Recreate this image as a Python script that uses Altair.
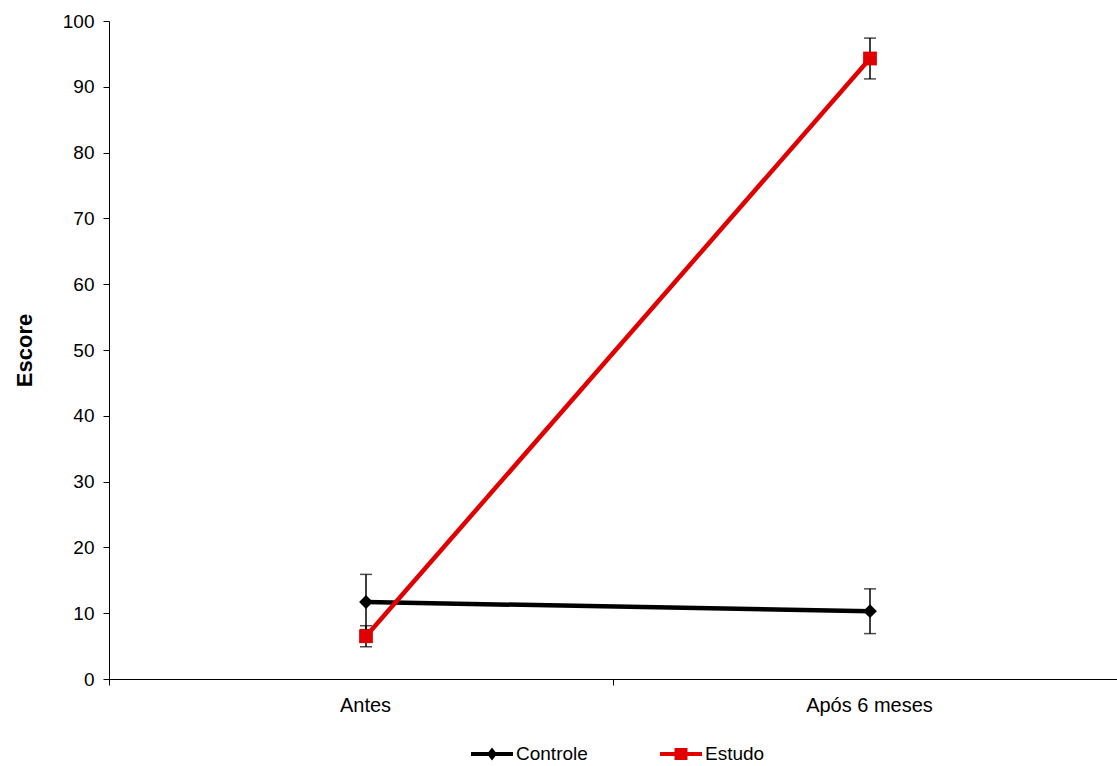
import altair as alt
import pandas as pd

# Mean score per group and period, with the half-width of each error bar
periods = ["Antes", "Após 6 meses"]
series_names = ["Controle", "Estudo"]
controle_mean = [11.7, 10.3]
controle_err = [4.2, 3.4]
estudo_mean = [6.5, 94.3]
estudo_err = [1.6, 3.1]
series_colors = ["#000000", "#e00000"]
series_shapes = ["diamond", "square"]
y_ticks = list(range(0, 101, 10))

rows = []
for name, means, errs in [
    ("Controle", controle_mean, controle_err),
    ("Estudo", estudo_mean, estudo_err),
]:
    for period, m, e in zip(periods, means, errs):
        rows.append({"serie": name, "periodo": period, "escore": m,
                     "lo": m - e, "hi": m + e})
df = pd.DataFrame(rows)

FONT = "Liberation Sans"
X_SHIFT = 5

x_enc = alt.X(
    "periodo:N",
    sort=periods,
    bandPosition=0.5,
    scale=alt.Scale(type="band", domain=periods, paddingInner=0, paddingOuter=0),
    axis=alt.Axis(
        title=None, tickBand="extent", tickSize=6, labelPadding=10,
        labelOffset=4, labelFontSize=20, labelFont=FONT,
        labelColor="#000000", domainColor="#000000", tickColor="#000000",
        labelAngle=0, grid=False,
    ),
)
y_scale = alt.Scale(domain=[0, 100], nice=False, zero=True)
y_axis = alt.Axis(
    values=y_ticks, tickSize=6, labelPadding=9, labelFontSize=19,
    labelFont=FONT, labelColor="#000000", domainColor="#000000",
    tickColor="#000000", grid=False, title="Escore", titleFont=FONT,
    titleFontSize=22, titleFontWeight="bold", titleColor="#000000",
    titlePadding=26,
)

color_scale = alt.Scale(domain=series_names, range=series_colors)

# Legend icons (10 px per path unit): a 42 px line with the series marker
path_controle = ("M-2.1,-0.2L2.1,-0.2L2.1,0.2L-2.1,0.2Z "
                 "M0,-0.66L0.5,0L0,0.66L-0.5,0Z")
path_estudo = ("M-2.1,-0.2L2.1,-0.2L2.1,0.2L-2.1,0.2Z "
               "M-0.65,-0.6L0.65,-0.6L0.65,0.6L-0.65,0.6Z")

legend = alt.Legend(
    title=None, orient="none", direction="horizontal",
    legendX=373, legendY=723,
    symbolSize=400, symbolStrokeWidth=0, symbolOpacity=1,
    labelFont=FONT, labelFontSize=19, labelColor="#000000",
    labelOffset=14, columnPadding=72,
)

base = alt.Chart(df)
y_mean = alt.Y("escore:Q", scale=y_scale, axis=y_axis)

err_rule = base.mark_rule(color="#000000", strokeWidth=1.5,
                          xOffset=X_SHIFT).encode(
    x=x_enc, y=alt.Y("lo:Q", scale=y_scale, axis=y_axis), y2="hi:Q"
)
cap_lo = base.mark_tick(color="#000000", thickness=1.5, size=12,
                        orient="horizontal", xOffset=X_SHIFT).encode(
    x=x_enc, y=alt.Y("lo:Q", scale=y_scale, axis=y_axis)
)
cap_hi = base.mark_tick(color="#000000", thickness=1.5, size=12,
                        orient="horizontal", xOffset=X_SHIFT).encode(
    x=x_enc, y=alt.Y("hi:Q", scale=y_scale, axis=y_axis)
)

# One line and one marker layer per group, black first so red sits on top
series_layers = []
for name, col in zip(series_names, series_colors):
    sub = base.transform_filter(alt.datum.serie == name)
    series_layers.append(
        sub.mark_line(strokeWidth=4.5, color=col, xOffset=X_SHIFT)
        .encode(x=x_enc, y=y_mean)
    )
for name, col, shp in zip(series_names, series_colors, series_shapes):
    sub = base.transform_filter(alt.datum.serie == name)
    series_layers.append(
        sub.mark_point(filled=True, opacity=1, size=190, shape=shp,
                       color=col, xOffset=X_SHIFT)
        .encode(x=x_enc, y=y_mean)
    )

# Transparent layer whose only job is to carry the legend
legend_layer = base.mark_point(filled=True, size=1, opacity=0).encode(
    color=alt.Color("serie:N", scale=color_scale, legend=legend),
    shape=alt.Shape(
        "serie:N",
        scale=alt.Scale(domain=series_names,
                        range=[path_controle, path_estudo]),
        legend=legend,
    ),
)

chart = (
    alt.layer(err_rule, cap_lo, cap_hi, *series_layers, legend_layer)
    .properties(
        width=1008, height=658,
        autosize=alt.AutoSizeParams(type="none"),
        padding={"left": 109, "top": 21, "right": 0, "bottom": 87},
        background="#ffffff",
    )
    .configure_view(stroke=None)
)

chart.save("out.html", embed_options={"renderer": "svg", "actions": False})
